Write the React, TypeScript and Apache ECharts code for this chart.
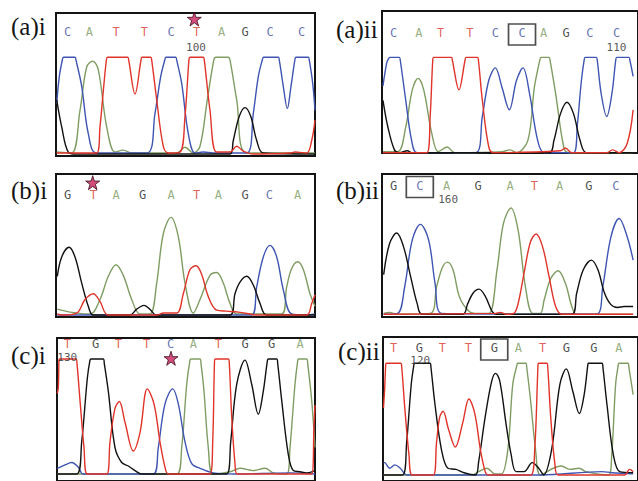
import React, { useEffect, useRef } from "react";
import * as echarts from "echarts";

type Pt = [number, number];

// ---------- (a)i ----------
const aiBases = ["C", "A", "T", "T", "C", "T", "A", "G", "C", "C"];
const aiBasePos = [11.7, 33.3, 60, 88.3, 115, 140.7, 165.7, 189, 214, 245.7];
const aiNumber = { text: "100", pos: 140 };
const aiStarPos = 138.3;
const aiA: Pt[] = [[0.7,2],[15.7,1],[24,45],[30.7,90],[36.7,96],[42.3,87],[50.7,28],[59,2],[67.3,4],[75.7,1],[120.7,1],[129,7],[137.3,1],[144,8],[151.3,56],[158,98],[160,100],[172.3,100],[174,97],[180.7,56],[190.7,1],[259,1]];
const aiC: Pt[] = [[0.7,52],[3.3,80],[6.5,98],[7.5,100],[19,100],[20,97],[25.7,70],[32.3,21],[40.7,1],[90.7,1],[99,42],[104.7,80],[109,98],[110,100],[119.7,100],[120.7,97],[125.7,73],[132.3,21],[139,1],[147.3,2],[157.3,1],[190.7,1],[197.3,42],[202.3,80],[206.5,98],[207.5,100],[222.3,100],[223.3,97],[227.3,70],[231.3,47],[235,70],[239,98],[240,100],[252.3,100],[253.3,97],[256.7,73],[259,45]];
const aiG: Pt[] = [[0.7,56],[5.7,28],[12.3,2],[20,0],[174,0],[177.3,14],[183.3,39],[189,48],[194.7,39],[200.7,14],[207.3,1],[259,0]];
const aiT: Pt[] = [[0.7,1],[40.7,1],[44,28],[48,73],[50.5,98],[51.5,100],[71.7,100],[72.7,97],[79,62],[85,97],[86,100],[94.7,100],[95.7,97],[100.7,56],[107.3,8],[112.3,1],[124,2],[129,39],[133,98],[134,100],[147.3,100],[148.3,97],[154,45],[160.7,2],[174,2],[180.7,8],[187.3,3],[197.3,0],[234,1],[239,2],[250.7,1],[255.7,14],[259,35]];

// ---------- (a)ii ----------
const aiiBases = ["C", "A", "T", "T", "C", "C", "A", "G", "C", "C"];
const aiiBasePos = [12, 37.7, 60, 90, 116, 143.3, 165.3, 188.3, 212.7, 240];
const aiiNumber = { text: "110", pos: 240 };
const aiiBoxIndex = 5;
const aiiA: Pt[] = [[1,1],[16,1],[24.3,27],[31,66],[37,78],[42.7,66],[51,20],[57.7,1],[66.7,6],[74.3,0],[122.7,1],[131,3],[137.7,0],[149.3,13],[156,69],[161.7,98],[162.7,100],[171,100],[172,97],[177.7,62],[186,6],[191,0],[257,0]];
const aiiC: Pt[] = [[1,70],[5,95],[7,99],[8,100],[17.7,100],[18.7,97],[24.3,55],[30.3,13],[36,0],[96,0],[102.7,38],[109.3,76],[116,89],[122.7,69],[130.3,45],[137.7,76],[144.3,89],[151,62],[159.3,13],[166,0],[196,0],[200,30],[204,75],[207,98],[208,100],[219.3,100],[220.3,97],[224.3,62],[230,38],[235.3,62],[239.3,98],[240.3,100],[252.7,100],[253.7,97],[257,80]];
const aiiG: Pt[] = [[1,55],[6,27],[12.7,3],[17.7,0],[26,2],[31,0],[171,0],[176,13],[182.7,41],[189.3,53],[196,41],[202.7,13],[209.3,0],[257,0]];
const aiiT: Pt[] = [[1,0],[46,0],[49.3,38],[52,98],[53,100],[71,100],[72,97],[78.7,66],[85,97],[86,100],[97.7,100],[98.7,97],[102.7,55],[109.3,6],[114.3,0],[182.7,2],[187.7,5],[194.3,0],[230,0],[236,3],[242.7,0],[251,10],[257,45]];

// ---------- (b)i ----------
const biBases = ["G", "T", "A", "G", "A", "T", "A", "G", "C", "A"];
const biBasePos = [11.7, 37.3, 60, 86.7, 115, 140.7, 162.3, 189, 213.3, 241.7];
const biStarPos = 36.7;
const biG: Pt[] = [[1.3,40],[5.7,60],[13,70],[19,60],[25.7,33],[32.3,9],[37.3,0],[74,0],[80.7,6],[88,10],[94.7,5],[100,0],[174,0],[179,22],[184,34],[190.7,40],[197.3,31],[204,12],[210.7,0],[259,0]];
const biT: Pt[] = [[1.3,1],[5.7,0],[20.7,2],[29,16],[37.3,22],[44,14],[52.3,0],[100.7,0],[107.3,2],[120.7,2],[127.3,22],[134,47],[140,51],[145.7,42],[152.3,19],[160.7,5],[170.7,4],[182.3,3],[194,1],[199,0],[250.7,0],[255.7,12],[259,21]];
const biA: Pt[] = [[1.3,6],[14,3],[34,1],[44,16],[52.3,40],[60,52],[67.3,41],[75.7,16],[84,1],[94,1],[100.7,33],[107.3,84],[115,101],[122.3,81],[129,33],[137.3,2],[144,16],[154,41],[160.7,44],[167.3,33],[174,12],[180.7,1],[225.7,1],[230.7,29],[235.7,48],[241.7,55],[247.3,47],[254,22],[259,9]];
const biC: Pt[] = [[1.3,0],[195.7,0],[200.7,29],[207.3,60],[214,72],[220.7,60],[227.3,26],[235.7,1],[250.7,0],[259,1]];

// ---------- (b)ii ----------
const biiBases = ["G", "C", "A", "G", "A", "T", "A", "G", "C"];
const biiBasePos = [12, 38.7, 66, 98.3, 131, 156, 181.7, 211.7, 239.3];
const biiNumber = { text: "160", pos: 67.7 };
const biiBoxIndex = 1;
const biiG: Pt[] = [[1.7,41],[7.7,73],[15,84],[22,70],[29.3,39],[36,11],[41,0],[82.7,0],[87.7,11],[93.3,22],[99.3,26],[106,18],[112.7,3],[117.7,0],[194.3,0],[199.3,22],[206,46],[214.3,56],[221,46],[227.7,22],[234.3,10],[241,7],[247.7,8],[257,8]];
const biiC: Pt[] = [[1.7,0],[16,1],[23.3,29],[31,77],[39.3,93],[47.7,77],[54.3,32],[61,1],[219.3,0],[226,29],[234.3,80],[242.7,99],[251,80],[257,56]];
const biiA: Pt[] = [[1.7,1],[7.7,2],[16,0],[49.3,1],[56,29],[62,49],[67,54],[72.7,46],[79.3,18],[89.3,3],[97.7,1],[109.3,1],[117.7,46],[124.3,94],[132,110],[139.3,87],[146.7,29],[154.3,1],[162,1],[166,15],[172.7,37],[180.3,45],[187.7,32],[194.3,8],[199.3,0],[257,0]];
const biiT: Pt[] = [[1.7,0],[116,1],[121,2],[127.7,0],[135,1],[139.3,11],[146,46],[152,75],[157.7,83],[164.3,70],[171,39],[177.7,8],[184.3,0],[257,0]];

// ---------- (c)i ----------
const ciBases = ["T", "G", "T", "T", "C", "A", "T", "G", "G", "A"];
const ciBasePos = [10.3, 38.7, 61.3, 89.7, 113.7, 136.3, 161.3, 188, 214.7, 243];
const ciNumber = { text: "130", pos: 10.3 };
const ciStarPos = 114;
const ciT: Pt[] = [[0.3,70],[1.3,75],[2,99],[2.5,100],[19,100],[20,96],[23,64],[27,23],[30.3,0],[49.7,0],[53,28],[58,57],[62.3,63],[68,45],[76.3,20],[83,36],[90.3,74],[97,61],[103,28],[108,6],[111.3,0],[153,0],[155.7,28],[157.5,98],[158.3,100],[171.3,100],[172.3,96],[174.7,50],[178,9],[180.3,0],[254.7,0],[257,42],[258,60]];
const ciG: Pt[] = [[0.3,0],[19.7,0],[24.7,28],[30.3,83],[33,99],[34,100],[46.3,100],[47.3,96],[51.3,72],[58,23],[64.7,10],[71.3,7],[78,3],[84.7,0],[169.7,0],[173.7,28],[179.7,78],[188,99],[194.7,78],[201.3,52],[206.3,72],[210.5,99],[211.5,100],[219.7,100],[220.7,96],[224.7,64],[231.3,17],[236.3,3],[243,2],[249.7,1],[258,3]];
const ciC: Pt[] = [[0.3,5],[8,8],[14.7,10],[21.3,6],[26.3,0],[96.3,0],[101.3,23],[108,61],[115.7,74],[121.3,61],[128,28],[134.7,9],[143,5],[156.3,1],[176.3,0],[233,1],[258,0]];
const ciA: Pt[] = [[0.3,0],[119.7,0],[124.7,23],[129.7,78],[133,99],[134,100],[143,100],[144,96],[147,72],[151.3,23],[156.3,0],[173,2],[183,5],[196.3,3],[208,5],[216.3,1],[229.7,0],[233,23],[238,78],[240.8,99],[241.5,100],[249.7,100],[250.7,96],[254.7,64],[258,23]];

// ---------- (c)ii ----------
const ciiBases = ["T", "G", "T", "T", "G", "A", "T", "G", "G", "A"];
const ciiBasePos = [11, 37.3, 61, 87.7, 114.3, 139, 164, 188.3, 216.7, 242.3];
const ciiNumber = { text: "120", pos: 38.3 };
const ciiBoxIndex = 4;
const ciiT: Pt[] = [[0.5,60],[1.7,77],[2.8,99],[3.3,100],[18.3,100],[19.3,96],[22.3,61],[26.7,18],[30,0],[51.7,0],[55,29],[58.3,52],[61.7,57],[67.3,41],[74.3,25],[81.7,46],[88.3,68],[94.3,55],[100,23],[105,3],[108.3,0],[141.7,0],[152,0],[156,25],[159.3,99],[160,100],[168.3,100],[169.3,96],[172.3,52],[176.7,9],[180,0],[248.3,0],[253.3,5],[257,3]];
const ciiG: Pt[] = [[0.5,0],[20,0],[24.3,29],[29,81],[31.8,99],[32.3,100],[48.3,100],[49.3,96],[53.3,64],[60,23],[66.7,6],[75,5],[83.3,2],[95,0],[98.3,12],[105,52],[111.7,84],[115.7,91],[120,84],[126.7,44],[131.7,18],[136.7,3],[145,3],[153.3,11],[160,6],[165,0],[173.3,23],[181.7,81],[188.3,95],[195,75],[201.7,55],[206.7,72],[210.5,99],[211,100],[225,100],[226,96],[230,64],[236.7,18],[243.3,3],[257,2]];
const ciiA: Pt[] = [[0.5,0],[91.7,0],[98.3,3],[106.7,6],[115,1],[121.7,1],[128.3,23],[133.3,81],[137.8,99],[138.3,100],[146.7,100],[147.7,96],[151.7,66],[156.7,23],[161.7,0],[175,6],[183.3,8],[191.7,5],[201.7,6],[208.3,3],[231.7,0],[235,18],[239,81],[241.8,99],[242.3,100],[251.7,100],[252.7,96],[257,72]];
const ciiC: Pt[] = [[0.5,11],[1.7,11],[6.7,6],[12.3,9],[17.7,6],[25,0],[161.7,0],[225,3],[235,2],[257,1]];

// ---------- styles / layout ----------
const baseColors: Record<string, string> = {
  A: "#7c9a5e",
  C: "#3d4fa6",
  G: "#1c1c1c",
  T: "#d8382c",
};
const traceColors: Record<string, string> = {
  A: "#7f9d62",
  C: "#3f55b2",
  G: "#111111",
  T: "#e0342a",
};
const STAR =
  "path://M50,2 L61.2,36.3 L97.6,36.3 L68.2,57.6 L79.4,91.9 L50,70.7 L20.6,91.9 L31.8,57.6 L2.4,36.3 L38.8,36.3 Z";

type Panel = {
  title: string;
  titleX: number;
  titleY: number;
  left: number;
  top: number;
  width: number;
  height: number;
  basePx: number;
  unit: number;
  lettersY: number;
  numY?: number;
  starY?: number;
  bases: string[];
  basePos: number[];
  number?: { text: string; pos: number };
  starPos?: number;
  boxIndex?: number;
  traces: { A: Pt[]; C: Pt[]; G: Pt[]; T: Pt[] };
};

const panels: Panel[] = [
  { title: "(a)i", titleX: 11, titleY: 26, left: 56, top: 13, width: 259, height: 143, basePx: 154, unit: 0.967, lettersY: 32, numY: 47, starY: 19, bases: aiBases, basePos: aiBasePos, number: aiNumber, starPos: aiStarPos, traces: { A: aiA, C: aiC, G: aiG, T: aiT } },
  { title: "(a)ii", titleX: 336, titleY: 29, left: 382, top: 11, width: 262, height: 142, basePx: 152.7, unit: 0.953, lettersY: 33, numY: 47, bases: aiiBases, basePos: aiiBasePos, number: aiiNumber, boxIndex: aiiBoxIndex, traces: { A: aiiA, C: aiiC, G: aiiG, T: aiiT } },
  { title: "(b)i", titleX: 11, titleY: 190, left: 56, top: 174, width: 259, height: 143, basePx: 315, unit: 0.967, lettersY: 195, starY: 182.7, bases: biBases, basePos: biBasePos, starPos: biStarPos, traces: { A: biA, C: biC, G: biG, T: biT } },
  { title: "(b)ii", titleX: 336, titleY: 190, left: 382, top: 174, width: 262, height: 143, basePx: 314.3, unit: 0.967, lettersY: 185.5, numY: 199, bases: biiBases, basePos: biiBasePos, number: biiNumber, boxIndex: biiBoxIndex, traces: { A: biiA, C: biiC, G: biiG, T: biiT } },
  { title: "(c)i", titleX: 11, titleY: 355, left: 57, top: 338, width: 258, height: 150, basePx: 480.7, unit: 1.207, lettersY: 344, numY: 358, starY: 359.3, bases: ciBases, basePos: ciBasePos, number: ciNumber, starPos: ciStarPos, traces: { A: ciA, C: ciC, G: ciG, T: ciT } },
  { title: "(c)ii", titleX: 338, titleY: 351, left: 383, top: 337, width: 262, height: 150, basePx: 480.7, unit: 1.163, lettersY: 348.5, numY: 361, bases: ciiBases, basePos: ciiBasePos, number: ciiNumber, boxIndex: ciiBoxIndex, traces: { A: ciiA, C: ciiC, G: ciiG, T: ciiT } },
];

function buildOption() {
  const grid: any[] = [];
  const xAxis: any[] = [];
  const yAxis: any[] = [];
  const series: any[] = [];
  const graphic: any[] = [];

  panels.forEach((p, i) => {
    const lvl = (py: number) => (p.basePx - py) / p.unit;
    grid.push({
      left: p.left,
      top: p.top,
      width: p.width,
      height: p.height,
      show: true,
      borderColor: "#141414",
      borderWidth: 2,
      backgroundColor: "rgba(0,0,0,0)",
      containLabel: false,
    });
    xAxis.push({ type: "value", gridIndex: i, min: 0, max: p.width, show: false });
    yAxis.push({
      type: "value",
      gridIndex: i,
      min: -(p.top + p.height - p.basePx) / p.unit,
      max: (p.basePx - p.top) / p.unit,
      show: false,
    });

    (["A", "C", "G", "T"] as const).forEach((b) => {
      series.push({
        type: "line",
        xAxisIndex: i,
        yAxisIndex: i,
        data: p.traces[b],
        smooth: 0.35,
        symbol: "none",
        silent: true,
        lineStyle: { color: traceColors[b], width: 1.4 },
        z: 3,
      });
    });

    series.push({
      type: "scatter",
      xAxisIndex: i,
      yAxisIndex: i,
      silent: true,
      clip: false,
      symbolSize: 1,
      itemStyle: { color: "rgba(0,0,0,0)" },
      label: {
        show: true,
        position: "inside",
        formatter: (d: any) => d.name,
        fontFamily: "DejaVu Sans Mono",
        fontSize: 12,
        lineHeight: 10,
      },
      data: p.bases.map((b, k) => ({
        name: b,
        value: [p.basePos[k], lvl(p.lettersY)],
        label: { color: baseColors[b] },
      })),
      z: 5,
    });

    if (p.number && p.numY !== undefined) {
      series.push({
        type: "scatter",
        xAxisIndex: i,
        yAxisIndex: i,
        silent: true,
        clip: false,
        symbolSize: 1,
        itemStyle: { color: "rgba(0,0,0,0)" },
        label: {
          show: true,
          position: "inside",
          formatter: (d: any) => d.name,
          fontFamily: "DejaVu Sans Mono",
          fontSize: 11,
          lineHeight: 9,
          color: "#2a2a2a",
        },
        data: [{ name: p.number.text, value: [p.number.pos, lvl(p.numY)] }],
        z: 5,
      });
    }

    if (p.starPos !== undefined && p.starY !== undefined) {
      series.push({
        type: "scatter",
        xAxisIndex: i,
        yAxisIndex: i,
        silent: true,
        clip: false,
        symbol: STAR,
        symbolSize: 14,
        itemStyle: { color: "#c8215c", borderColor: "#3a0d1c", borderWidth: 1 },
        data: [[p.starPos, lvl(p.starY)]],
        z: 6,
      });
    }

    if (p.boxIndex !== undefined) {
      series.push({
        type: "scatter",
        xAxisIndex: i,
        yAxisIndex: i,
        silent: true,
        clip: false,
        symbol: "rect",
        symbolSize: [27, 21],
        itemStyle: { color: "rgba(0,0,0,0)", borderColor: "#222", borderWidth: 1.5 },
        data: [[p.basePos[p.boxIndex], lvl(p.lettersY + 1.5)]],
        z: 6,
      });
    }

    graphic.push({
      type: "text",
      x: p.titleX,
      y: p.titleY,
      silent: true,
      style: {
        text: p.title,
        fontFamily: "Liberation Serif",
        fontSize: 25,
        fill: "#151515",
        verticalAlign: "middle",
        align: "left",
      },
      z: 10,
    });
  });

  return {
    animation: false,
    backgroundColor: "#ffffff",
    grid,
    xAxis,
    yAxis,
    series,
    graphic,
  };
}

export default function App() {
  const ref = useRef<HTMLDivElement>(null);
  useEffect(() => {
    if (!ref.current) return;
    const chart = echarts.init(ref.current, undefined, { renderer: "svg" });
    chart.setOption(buildOption() as any);
    return () => chart.dispose();
  }, []);
  return (
    <div
      ref={ref}
      style={{ position: "absolute", left: 0, top: 0, width: 638, height: 481, background: "#fff" }}
    />
  );
}
